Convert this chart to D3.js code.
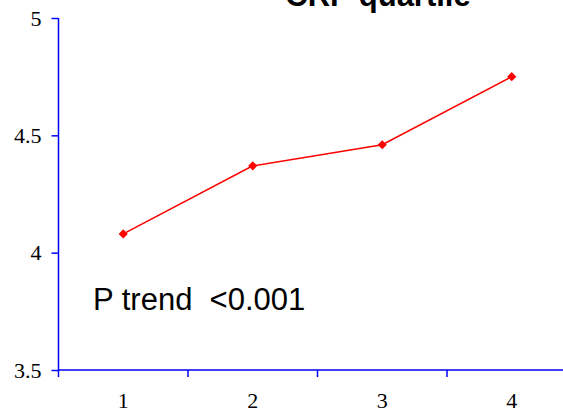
<!DOCTYPE html>
<html>
<head>
<meta charset="utf-8">
<script src="https://cdn.jsdelivr.net/npm/d3@7"></script>
<style>
  html, body { margin: 0; padding: 0; background: #fff; }
  svg { display: block; }
  .axis text { font-family: "Liberation Serif", "Times New Roman", "DejaVu Serif", serif; font-size: 22px; fill: #000; }
</style>
</head>
<body>
<svg id="chart" width="563" height="412"></svg>
<script>
// CRP quartile trend
const categories = ["1", "2", "3", "4"];
const values = [4.08, 4.37, 4.46, 4.75];
const yTicks = [3.5, 4, 4.5, 5];
const titleText = "CRP quartile";
const noteText = "P trend  <0.001";

const svg = d3.select("#chart");
const plotLeft = 58.5, plotRight = 576.5, plotTop = 18, plotBottom = 370;
const serifFont = "Liberation Serif, Times New Roman, serif";

const x = d3.scaleBand().domain(categories).range([plotLeft, plotRight]).padding(0);
const y = d3.scaleLinear().domain([3.5, 5]).range([plotBottom, plotTop]);

const axisColor = "#0000ff";

// Y axis
const yAxis = svg.append("g")
  .attr("class", "axis")
  .attr("transform", `translate(${plotLeft},0)`)
  .call(d3.axisLeft(y).tickValues(yTicks).tickFormat(d3.format("")).tickSize(7).tickPadding(10))
  .attr("font-family", serifFont)
  .attr("font-size", 22);
yAxis.select(".domain").attr("stroke", axisColor).attr("stroke-width", 1.5)
  .attr("d", `M0,${plotTop}V${plotBottom}`);
yAxis.selectAll(".tick line").attr("stroke", axisColor).attr("stroke-width", 1.5);

// X axis: labels centred on each category, ticks at category boundaries
const xAxis = svg.append("g")
  .attr("class", "axis")
  .attr("transform", `translate(0,${plotBottom})`)
  .call(d3.axisBottom(x).tickSize(0).tickPadding(22))
  .attr("font-family", serifFont)
  .attr("font-size", 22);
xAxis.select(".domain").attr("stroke", axisColor).attr("stroke-width", 1.5)
  .attr("d", `M${plotLeft},0H${plotRight}`);

const boundaries = categories.map(c => x(c)).concat([x(categories[categories.length - 1]) + x.bandwidth()]);
xAxis.selectAll("line.boundary")
  .data(boundaries)
  .join("line")
  .attr("class", "boundary")
  .attr("x1", d => d).attr("x2", d => d)
  .attr("y1", 0).attr("y2", 7)
  .attr("stroke", axisColor).attr("stroke-width", 1.5);

// Series line
const pts = categories.map((c, i) => [x(c) + x.bandwidth() / 2, y(values[i])]);
svg.append("path")
  .attr("d", d3.line()(pts))
  .attr("fill", "none")
  .attr("stroke", "#ff0000")
  .attr("stroke-width", 1.5);

// Diamond markers
svg.selectAll("path.marker")
  .data(pts)
  .join("path")
  .attr("class", "marker")
  .attr("d", d3.symbol(d3.symbolSquare, 42)())
  .attr("transform", d => `translate(${d[0]},${d[1]}) rotate(45)`)
  .attr("fill", "#ff0000");

// Title (partly above the top edge)
svg.append("text")
  .attr("x", 378).attr("y", 6)
  .attr("text-anchor", "middle")
  .style("font-family", "'Liberation Sans', Arial, sans-serif")
  .style("font-weight", "bold")
  .style("font-size", "31px")
  .text(titleText);

// Trend annotation
svg.append("text")
  .attr("x", 93).attr("y", 310)
  .style("font-family", "'Liberation Sans', Arial, sans-serif")
  .style("font-size", "31px")
  .style("white-space", "pre")
  .text(noteText);
</script>
</body>
</html>
